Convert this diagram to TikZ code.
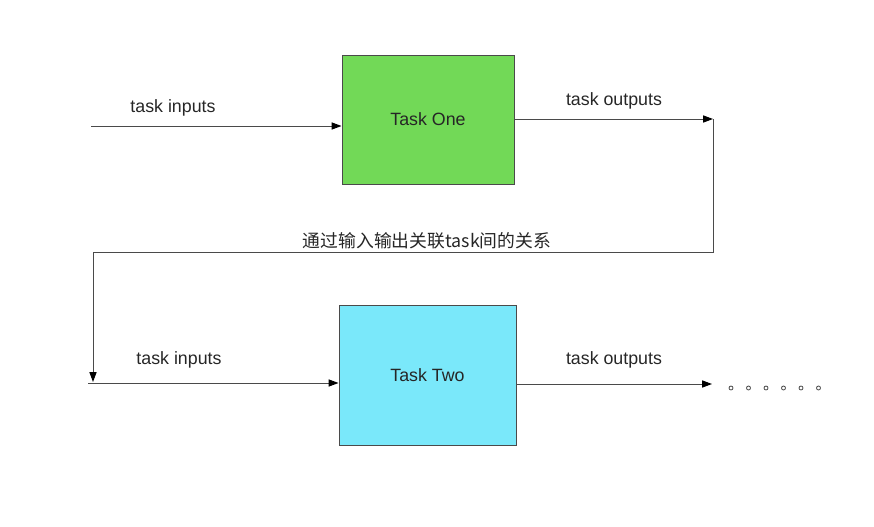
\documentclass[tikz,border=0pt]{standalone}
\usepackage{fontspec}
\usepackage{xcolor}
\usepackage{tikz}
\usetikzlibrary{arrows.meta}
\setmainfont{Liberation Sans}
\newfontfamily\cjk{Noto Sans CJK SC}

\definecolor{taskgreen}{HTML}{72D957}
\definecolor{taskcyan}{HTML}{7AE8FA}
\definecolor{linegray}{HTML}{4A4A4A}

\begin{document}
\begin{tikzpicture}[x=0.5pt,y=-0.5pt]
		\tikzstyle{every node}+=[font=\fontsize{8.9}{10}\selectfont, text=black!85]
		\tikzstyle{taskbox}=[draw=linegray, line width=0.5pt, inner sep=0pt]
		\tikzstyle{flow}=[linegray, line width=0.5pt, -{Triangle[length=5pt,width=3.6pt,color=black]}]
		\tikzstyle{link}=[linegray, line width=0.5pt]
		\useasboundingbox (0,0) rectangle (874,526);
		\node [taskbox, fill=taskgreen, minimum width=86pt, minimum height=64.5pt] (taskone) at (428,119.5) {Task One};
		\node [taskbox, fill=taskcyan, minimum width=88.5pt, minimum height=70pt] (tasktwo) at (427.5,375) {Task Two};
		\coordinate (inone) at (91,126);
		\coordinate (outone) at (713,119);
		\coordinate (turnone) at (713,252);
		\coordinate (turntwo) at (93,252);
		\coordinate (intwo) at (88,383);
		\coordinate (outtwo) at (712,384);
		\draw [flow] (inone) -- (inone -| taskone.west);
		\draw [flow] (taskone.east |- outone) -- (outone);
		\draw [link] (outone) -- (turnone) -- (turntwo);
		\draw [flow] (turntwo) -- (93,382);
		\draw [flow] (intwo) -- (intwo -| tasktwo.west);
		\draw [flow] (tasktwo.east |- outtwo) -- (outtwo);
		\node (inlabelone) at (173,107.5) {task inputs};
		\node (outlabelone) at (614,100.5) {task outputs};
		\node (inlabeltwo) at (179,359.5) {task inputs};
		\node (outlabeltwo) at (614,359.5) {task outputs};
		\node (relation) at (427,241) {\cjk 通过输入输出关联task间的关系};
		\foreach \x in {731,748.5,766,783.5,801,818.5}
			\draw [linegray, line width=0.4pt] (\x,388) circle (2);
		\end{tikzpicture}
\end{document}
